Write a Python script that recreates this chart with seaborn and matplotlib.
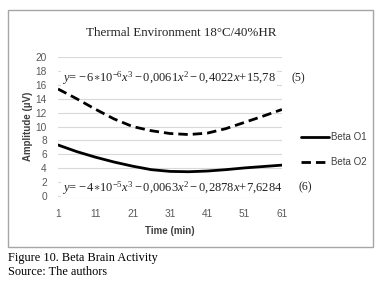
import matplotlib
matplotlib.use("Agg")
import matplotlib.pyplot as plt
import seaborn as sns
import pandas as pd
from matplotlib.patches import Rectangle

# ---- data ----
time_min = [1, 6, 11, 16, 21, 26, 31, 36, 41, 46, 51, 56, 61]
beta_o1 = [7.35, 6.4, 5.6, 4.9, 4.3, 3.8, 3.55, 3.5, 3.6, 3.8, 4.05, 4.25, 4.45]
beta_o2 = [15.4, 14.0, 12.5, 11.1, 10.0, 9.4, 9.0, 8.85, 9.05, 9.7, 10.6, 11.5, 12.45]
series_names = ["Beta O1", "Beta O2"]
y_ticks = list(range(0, 21, 2))
x_ticks = [1, 11, 21, 31, 41, 51, 61]
title = "Thermal Environment 18°C/40%HR"
eq5 = r"$y\!=\!-6{\ast}10^{-6}x^{3}-0{,}0061x^{2}-0{,}4022x\!+\!15{,}78$"
eq6 = r"$y\!=\!-4{\ast}10^{-5}x^{3}-0{,}0063x^{2}-0{,}2878x\!+\!7{,}6284$"

df = pd.DataFrame({
    "Time": time_min * 2,
    "Amplitude": beta_o1 + beta_o2,
    "Series": [series_names[0]] * len(time_min) + [series_names[1]] * len(time_min),
})

sns.set_theme(style="white")
plt.rcParams["mathtext.fontset"] = "custom"
plt.rcParams["mathtext.rm"] = "Liberation Serif"
plt.rcParams["mathtext.it"] = "Liberation Serif:italic"
plt.rcParams["font.family"] = ["Liberation Sans", "DejaVu Sans"]

fig = plt.figure(figsize=(3.84, 2.85), dpi=100)
ax = fig.add_axes([0.151, 0.312, 0.583, 0.488])

sns.lineplot(data=df, x="Time", y="Amplitude", style="Series", color="black",
             dashes={"Beta O1": "", "Beta O2": (3.4, 1.8)}, linewidth=2.0,
             ax=ax, legend=True)

ax.set_xlim(1, 61)
ax.set_ylim(0, 20)
ax.set_yticks(y_ticks)
ax.set_xticks(x_ticks)
ax.grid(axis="y", color="#d9d9d9", linewidth=0.8)
ax.set_axisbelow(True)
for s in ["top", "right", "left"]:
    ax.spines[s].set_visible(False)
ax.spines["bottom"].set_color("#d9d9d9")
ax.spines["bottom"].set_linewidth(0.8)
ax.tick_params(axis="both", length=0, labelsize=7.3, colors="#595959")
ax.tick_params(axis="y", pad=8)
ax.tick_params(axis="x", pad=9)
ax.set_xlabel("Time (min)", fontsize=7, fontweight="bold", color="#404040", labelpad=5)
ax.set_ylabel("Amplitude (µV)", fontsize=7, fontweight="bold", color="#404040", labelpad=1.5)

leg = ax.legend(loc="center left", bbox_to_anchor=(0.775, 0.475), bbox_transform=fig.transFigure,
                frameon=False, fontsize=7, handlelength=2.8, labelspacing=1.5,
                handletextpad=0.2, borderaxespad=0)
for t in leg.get_texts():
    t.set_color("#404040")

# equations
ax.text(0.018, 17.0, eq5, transform=ax.get_yaxis_transform(), fontsize=9,
        va="center", ha="left", color="#222222",
        bbox=dict(facecolor="white", edgecolor="none", pad=0.5))
ax.text(1.045, 17.0, "(5)", transform=ax.get_yaxis_transform(), fontsize=8.5,
        family="Liberation Serif", va="center", ha="left", color="#222222", clip_on=False)
ax.text(0.018, 1.2, eq6, transform=ax.get_yaxis_transform(), fontsize=9,
        va="center", ha="left", color="#222222",
        bbox=dict(facecolor="white", edgecolor="none", pad=0.5))
ax.text(1.075, 1.2, "(6)", transform=ax.get_yaxis_transform(), fontsize=8.5,
        family="Liberation Serif", va="center", ha="left", color="#222222", clip_on=False)

fig.text(0.471, 0.884, title, fontsize=9.4, family="Liberation Serif",
         ha="center", va="center", color="#222222")

fig.patches.append(Rectangle((0.021, 0.133), 0.95, 0.832, transform=fig.transFigure,
                             fill=False, edgecolor="#a6a6a6", linewidth=1.0))

fig.text(0.021, 0.095, "Figure 10. Beta Brain Activity", fontsize=8.8,
         family="Liberation Serif", ha="left", va="center", color="black")
fig.text(0.021, 0.047, "Source: The authors", fontsize=8.8,
         family="Liberation Serif", ha="left", va="center", color="black")

fig.savefig("out.png", dpi=100, facecolor="white")
